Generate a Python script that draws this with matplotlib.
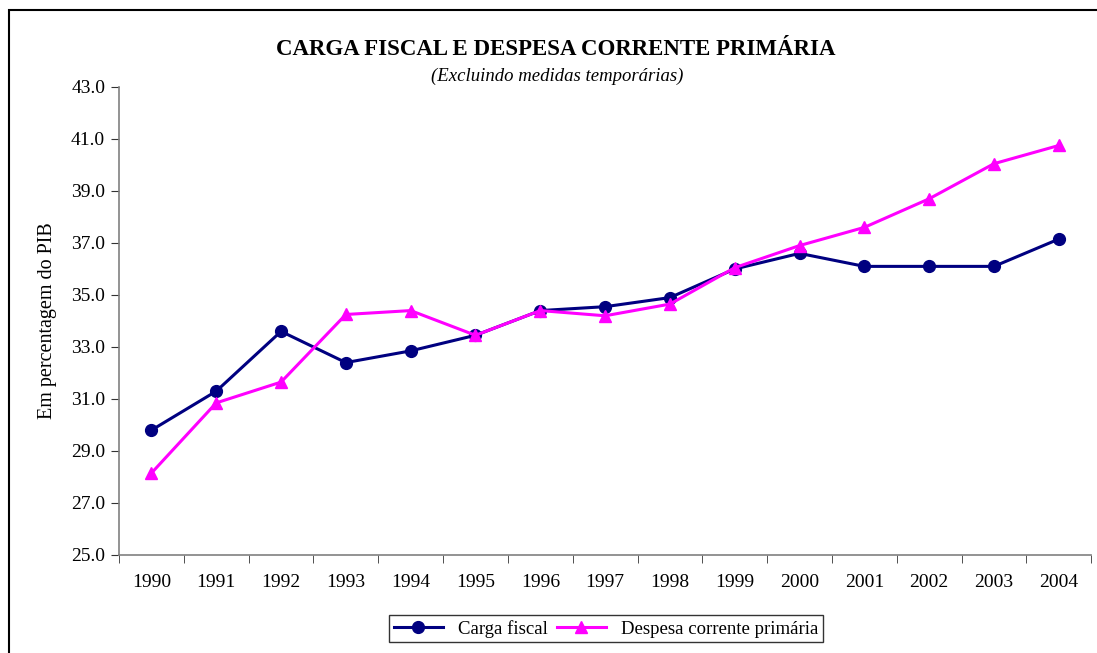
import numpy as np
import matplotlib
matplotlib.use('Agg')
import matplotlib.pyplot as plt
from matplotlib.patches import Rectangle
from matplotlib.ticker import FormatStrFormatter

plt.rcParams['font.family'] = ['Liberation Serif', 'DejaVu Serif']

# Data
years = ['1990', '1991', '1992', '1993', '1994', '1995', '1996', '1997',
         '1998', '1999', '2000', '2001', '2002', '2003', '2004']
carga_fiscal = [29.8, 31.3, 33.6, 32.4, 32.85, 33.45, 34.4, 34.55,
                34.9, 36.0, 36.6, 36.1, 36.1, 36.1, 37.15]
despesa_corrente = [28.15, 30.85, 31.65, 34.25, 34.4, 33.45, 34.4, 34.2,
                    34.65, 36.05, 36.9, 37.6, 38.7, 40.05, 40.75]

fig = plt.figure(figsize=(10.97, 6.53), dpi=100)
ax = fig.add_axes([0.1085, 0.1501, 0.8862, 0.7167])

x = np.arange(len(years))
ax.plot(x, carga_fiscal, color='#000080', lw=2.2, marker='o', ms=8.5,
        label='Carga fiscal')
ax.plot(x, despesa_corrente, color='#FF00FF', lw=2.2, marker='^', ms=9,
        label='Despesa corrente primária')

ax.set_xlim(-0.5, len(years) - 0.5)
ax.set_ylim(25, 43)
ax.set_yticks(np.arange(25, 43.1, 2))
ax.yaxis.set_major_formatter(FormatStrFormatter('%.1f'))
ax.set_xticks(x)
ax.set_xticklabels(years)
ax.set_xticks(np.arange(-0.5, len(years)), minor=True)
ax.tick_params(axis='x', which='major', length=0, pad=14, labelsize=14)
ax.tick_params(axis='x', which='minor', length=6, direction='out', color='#333333')
ax.tick_params(axis='y', length=6, direction='out', labelsize=14, pad=4, color='#333333')

for s in ['top', 'right']:
    ax.spines[s].set_visible(False)
for s in ['left', 'bottom']:
    ax.spines[s].set_color('#808080')
    ax.spines[s].set_linewidth(1.2)

ax.set_ylabel('Em percentagem do PIB', fontsize=14.5, labelpad=10)

fig.text(0.507, 0.924, 'CARGA FISCAL E DESPESA CORRENTE PRIMÁRIA',
         ha='center', va='center', fontsize=16.5, fontweight='bold')
fig.text(0.508, 0.883, '(Excluindo medidas temporárias)',
         ha='center', va='center', fontsize=13.5, style='italic')

leg = fig.legend(loc='center', bbox_to_anchor=(0.5525, 0.037), ncol=2,
                 fontsize=13.5, frameon=True, fancybox=False, borderpad=0.25,
                 handlelength=2.6, columnspacing=0.5, handletextpad=0.8)
leg.get_frame().set_edgecolor('black')
leg.get_frame().set_linewidth(1.0)

# outer chart border
fig.patches.append(Rectangle((9 / 1097, -0.1), 1.2, 1.1 - 10 / 653,
                             transform=fig.transFigure, fill=False,
                             edgecolor='black', lw=1.5))

fig.savefig('out.png', dpi=100)
